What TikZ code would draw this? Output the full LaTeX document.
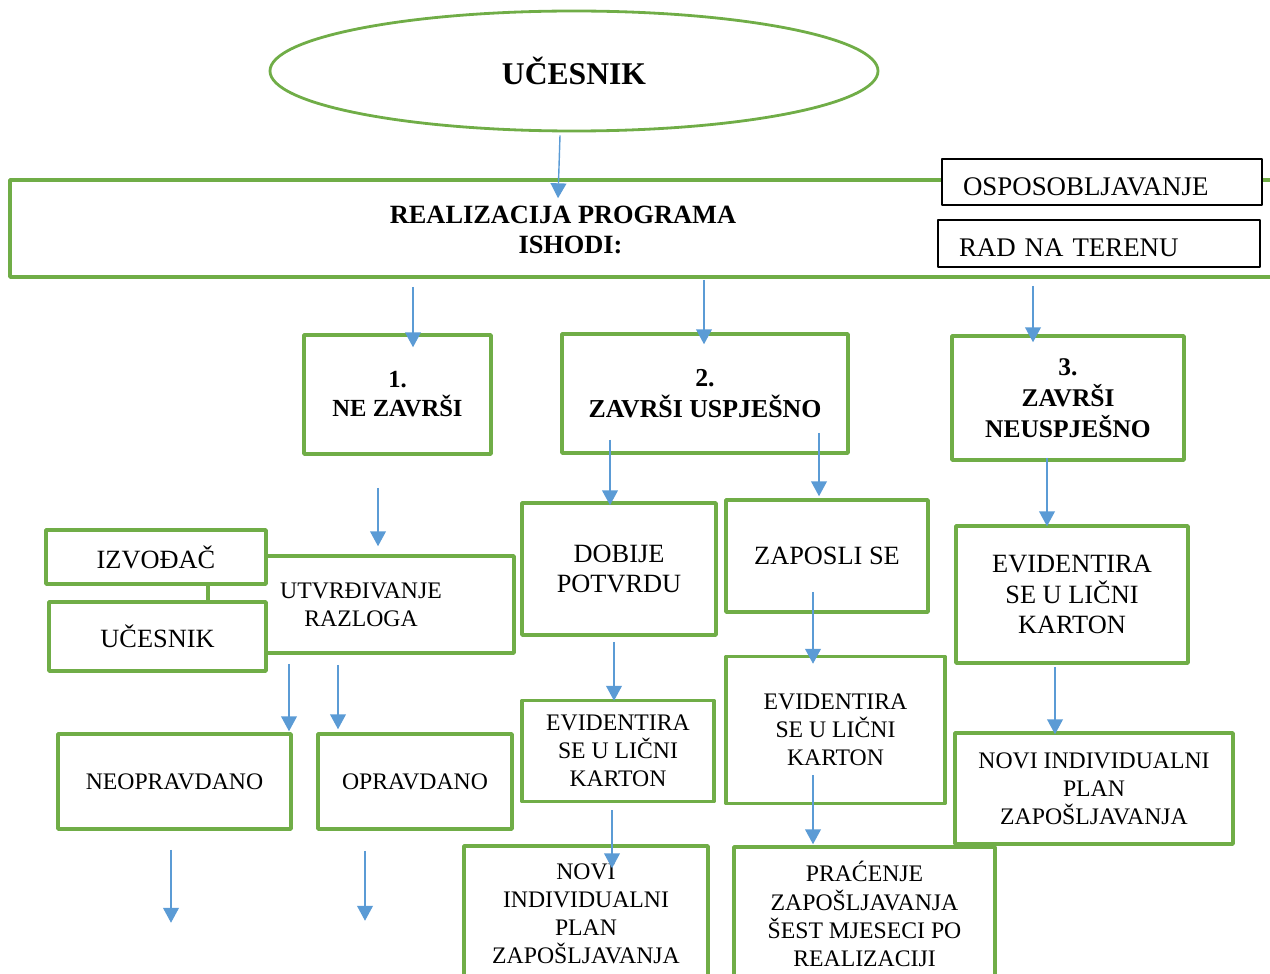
\documentclass[tikz,border=0pt]{standalone}
\usepackage{fontspec}
\setmainfont{Liberation Serif}
\usetikzlibrary{shapes.geometric,arrows.meta,calc}
\definecolor{boxgreen}{RGB}{112,173,71}
\definecolor{arrowblue}{RGB}{91,155,213}
\newcommand{\pu}{0.02cm}
\tikzset{
  outcome/.style={draw=boxgreen,line width=2pt,fill=white,inner sep=0pt,align=center,
    font=\fontsize{13.5}{16}\selectfont},
  bigtext/.style={font=\fontsize{15}{17.5}\selectfont},
  result/.style={outcome,font=\bfseries\fontsize{14.5}{16.5}\selectfont},
  sidebox/.style={draw=black,line width=1.1pt,fill=white,inner xsep=0.42cm,inner ysep=0pt,
    text width=5.56cm,align=left,text height=0.53cm,text depth=0pt,font=\fontsize{15.3}{17}\selectfont},
  arr/.style={draw=arrowblue,line width=0.8pt,-{Triangle[width=9pt,length=8.5pt]}}
}
\begin{document}
\begin{tikzpicture}[x=\pu,y=-\pu,line join=round]
		\useasboundingbox (0,0) rectangle (1270,973);
		\clip (0,0) rectangle (1270,973);
		% top
		\node[ellipse,draw=boxgreen,line width=1.6pt,inner sep=0pt,minimum width=608*\pu,minimum height=120*\pu,
		  font=\bfseries\fontsize{18}{20}\selectfont] (ucesnik) at (574,71) {UČESNIK};
		\node[outcome,minimum width=1270*\pu,minimum height=97*\pu] (prog) at (645,228.5) {};
		\node[font=\bfseries\fontsize{15}{17}\selectfont,align=center] (progtxt) at (563,230) {REALIZACIJA PROGRAMA\\\hspace*{0.3cm}ISHODI:};
		\node[sidebox,minimum height=46*\pu] (osp) at (1102,182) {OSPOSOBLJAVANJE};
		\node[sidebox,text width=5.6cm,minimum height=47*\pu] (rad) at (1099,243.5) {RAD NA TERENU};
		% outcomes
		\node[result,minimum width=187*\pu,minimum height=119*\pu,font=\bfseries\fontsize{14}{16.5}\selectfont] (nezavrsi) at (397.5,394.5) {1.\\NE ZAVRŠI};
		\node[result,minimum width=286*\pu,minimum height=119*\pu,font=\bfseries\fontsize{14.7}{17.5}\selectfont] (uspjesno) at (705,393.5) {2.\\ZAVRŠI USPJEŠNO};
		\node[result,minimum width=232*\pu,minimum height=124*\pu,font=\bfseries\fontsize{14.5}{17.5}\selectfont] (neuspjesno) at (1068,398) {3.\\ZAVRŠI\\NEUSPJEŠNO};
		% 1. ne zavrsi
		\node[outcome,minimum width=306*\pu,minimum height=97*\pu] (razlog) at (361,604.5) {UTVRĐIVANJE\\RAZLOGA};
		\node[outcome,bigtext,minimum width=220*\pu,minimum height=54*\pu] (izvodjac) at (156,557) {IZVOĐAČ};
		\node[outcome,bigtext,minimum width=217*\pu,minimum height=69*\pu] (ucesnik2) at (157.5,636.5) {UČESNIK};
		\node[outcome,minimum width=233*\pu,minimum height=95*\pu] (neopr) at (174.5,781.5) {NEOPRAVDANO};
		\node[outcome,minimum width=194*\pu,minimum height=95*\pu] (opr) at (415,781.5) {OPRAVDANO};
		% 2. zavrsi uspjesno
		\node[outcome,font=\fontsize{15}{17.5}\selectfont,minimum width=194*\pu,minimum height=132*\pu] (potvrda) at (619,569) {DOBIJE\\POTVRDU};
		\node[outcome,bigtext,minimum width=202*\pu,minimum height=112*\pu] (zaposli) at (827,556) {ZAPOSLI SE};
		\node[outcome,minimum width=192*\pu,minimum height=101*\pu] (evid1) at (618,751) {EVIDENTIRA\\SE U LIČNI\\KARTON};
		\node[outcome,minimum width=219*\pu,minimum height=147*\pu] (evid2) at (835.5,730) {EVIDENTIRA\\SE U LIČNI\\KARTON};
		\node[outcome,minimum width=244*\pu,minimum height=135*\pu] (plan1) at (586,913.5) {NOVI\\INDIVIDUALNI\\PLAN\\ZAPOŠLJAVANJA};
		\node[outcome,minimum width=261*\pu,minimum height=134*\pu] (pracenje) at (864.5,914) {PRAĆENJE\\ZAPOŠLJAVANJA\\ŠEST MJESECI PO\\REALIZACIJI};
		% 3. zavrsi neuspjesno
		\node[outcome,minimum width=232*\pu,minimum height=137*\pu,font=\fontsize{15}{17.5}\selectfont] (evid3) at (1072,594.5) {EVIDENTIRA\\SE U LIČNI\\KARTON};
		\node[outcome,minimum width=278*\pu,minimum height=111*\pu] (plan3) at (1094,788.5) {NOVI INDIVIDUALNI\\PLAN\\ZAPOŠLJAVANJA};
		% arrows
		\draw[arr] ($(560,0 |- ucesnik.south)+(0,3)$) -- ($(558,0 |- prog.north)+(0,20)$);
		\foreach \x/\a/\ga/\b/\gb in {413/prog/8/nezavrsi/14, 704/prog/1/uspjesno/12, 1033/prog/7/neuspjesno/8,
		  378/nezavrsi/32/razlog/-8, 289/razlog/9/neopr/-1, 338/razlog/10/opr/-3,
		  610/uspjesno/-15/potvrda/4, 819/uspjesno/-22/zaposli/-2, 614/potvrda/5/evid1/2,
		  813/zaposli/-22/evid2/9, 612/evid1/7/plan1/24, 813/evid2/-30/pracenje/-1,
		  1047/neuspjesno/-4/evid3/2, 1055/evid3/2/plan3/3}
		\draw[arr] ($(\x,0 |- \a.south)+(0,\ga)$) -- ($(\x,0 |- \b.north)+(0,\gb)$);
		\draw[arr] ($(171,0 |- neopr.south)+(0,19)$) -- ++(0,73);
		\draw[arr] ($(365,0 |- opr.south)+(0,20)$) -- ++(0,70);
\end{tikzpicture}
\end{document}
